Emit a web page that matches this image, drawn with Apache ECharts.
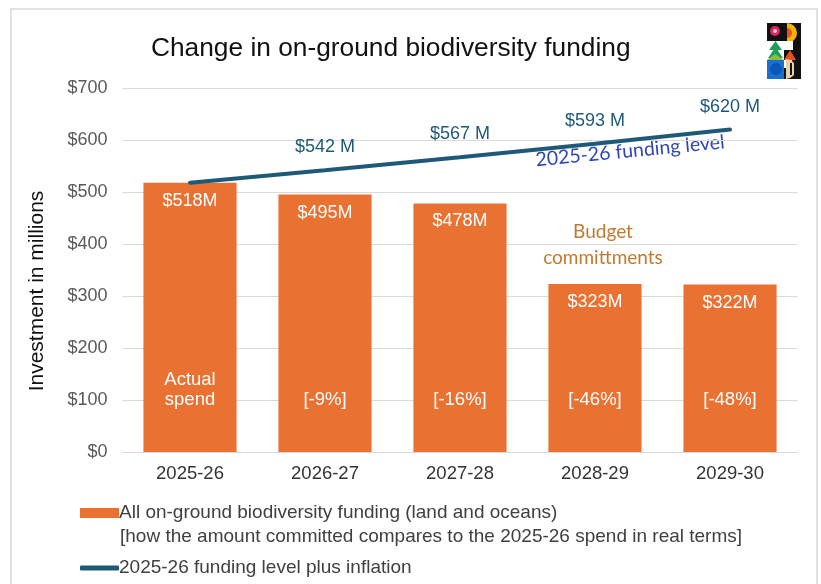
<!DOCTYPE html>
<html><head><meta charset="utf-8">
<script src="https://cdn.jsdelivr.net/npm/echarts@6/dist/echarts.min.js"></script>
<style>html,body{margin:0;padding:0;background:#fff}#c{width:821px;height:584px}</style>
</head><body><div id="c"></div>
<script>
const categories = ['2025-26', '2026-27', '2027-28', '2028-29', '2029-30'];
const funding = [518, 495, 478, 323, 322];
const fundingLabels = ['$518M', '$495M', '$478M', '$323M', '$322M'];
const realTermsNotes = ['Actual\nspend', '[-9%]', '[-16%]', '[-46%]', '[-48%]'];
const inflationLevel = [518, 542, 567, 593, 620];
const inflationLabels = ['', '$542 M', '$567 M', '$593 M', '$620 M'];
const yMin = 0, yMax = 700, yStep = 100;

const barName = 'All on-ground biodiversity funding (land and oceans)';
const lineName = '2025-26 funding level plus inflation';
const FONT = '"Liberation Sans", Arial, sans-serif';
const ORANGE = '#E97132';
const TEAL = '#1E5A78';

const legendText = {fontFamily: FONT, fontSize: 19, color: '#404040', lineHeight: 20, padding: [0, 0, 0, -5]};

const chart = echarts.init(document.getElementById('c'), null, {renderer: 'canvas'});
chart.setOption({
  backgroundColor: '#fff',
  animation: false,
  title: {
    text: 'Change in on-ground biodiversity funding',
    left: 146, top: 31,
    textStyle: {fontFamily: FONT, fontSize: 26.3, fontWeight: 'normal', color: '#111'}
  },
  grid: {left: 122.5, right: 23.5, top: 88, bottom: 132},
  legend: [
    {
      left: 75, top: 498, itemWidth: 39, itemHeight: 10,
      data: [{name: barName, icon: 'rect'}],
      textStyle: legendText
    },
    {
      left: 75, top: 553, itemWidth: 39, itemHeight: 5,
      data: [{name: lineName, icon: 'roundRect'}],
      textStyle: legendText
    }
  ],
  xAxis: {
    type: 'category', data: categories,
    axisLine: {lineStyle: {color: '#d9d9d9', width: 1}},
    axisTick: {show: false},
    axisLabel: {fontFamily: FONT, fontSize: 18.5, color: '#333', margin: 12}
  },
  yAxis: {
    type: 'value', min: yMin, max: yMax, interval: yStep,
    axisLine: {show: false}, axisTick: {show: false},
    splitLine: {lineStyle: {color: '#d9d9d9', width: 1}},
    axisLabel: {fontFamily: FONT, fontSize: 18, color: '#595959', margin: 15,
      formatter: v => '$' + v}
  },
  series: [
    {
      name: barName, type: 'bar', data: funding, barWidth: '69%',
      itemStyle: {color: ORANGE},
      label: {show: true, position: 'insideTop', distance: 9,
        fontFamily: FONT, fontSize: 18, color: '#fff',
        formatter: p => fundingLabels[p.dataIndex]}
    },
    {
      name: 'notes', type: 'bar', data: funding, barWidth: '69%', barGap: '-100%',
      silent: true, itemStyle: {color: 'rgba(0,0,0,0)'},
      label: {show: true, position: 'insideBottom', distance: 42,
        fontFamily: FONT, fontSize: 18.5, color: '#fff', lineHeight: 20,
        formatter: p => realTermsNotes[p.dataIndex]}
    },
    {
      name: lineName, type: 'line', data: inflationLevel, z: 5,
      symbol: 'circle', symbolSize: 0, showSymbol: true,
      lineStyle: {color: TEAL, width: 4, cap: 'round'},
      itemStyle: {color: TEAL},
      label: {show: true, position: 'top', distance: 14,
        fontFamily: FONT, fontSize: 18, color: TEAL,
        formatter: p => inflationLabels[p.dataIndex]}
    }
  ],
  graphic: [
    {type: 'rect', shape: {x: 11, y: 9, width: 806, height: 600},
      style: {fill: 'none', stroke: '#d9d9d9', lineWidth: 1.5}, silent: true},
    {type: 'text', x: 37, y: 291, rotation: Math.PI / 2,
      style: {text: 'Investment in millions', fontFamily: FONT, fontSize: 21, fill: '#111',
        textAlign: 'center', textVerticalAlign: 'middle'}},
    {type: 'text', x: 120, y: 537,
      style: {text: '[how the amount committed compares to the 2025-26 spend in real terms]',
        fontFamily: FONT, fontSize: 19, fill: '#404040', textVerticalAlign: 'middle'}},
    {type: 'text', x: 630, y: 151, rotation: 0.095,
      style: {text: '2025-26 funding level', fontFamily: 'Lato, sans-serif', fontSize: 19.5, fill: '#2F47B5',
        textAlign: 'center', textVerticalAlign: 'middle'}},
    {type: 'text', x: 603, y: 245,
      style: {text: 'Budget\ncommittments', fontFamily: 'Lato, sans-serif', fontSize: 19, lineHeight: 26,
        fill: '#C27A2E', textAlign: 'center', textVerticalAlign: 'middle'}},
    {type: 'group', x: 767, y: 23, silent: true, children: [
      {type: 'rect', shape: {x: 0, y: 0, width: 34, height: 56}, style: {fill: '#111'}},
      {type: 'circle', shape: {cx: 8, cy: 8, r: 5}, style: {fill: '#E0245E'}},
      {type: 'circle', shape: {cx: 8, cy: 8, r: 2}, style: {fill: '#F7C6D0'}},
      {type: 'sector', shape: {cx: 20, cy: 10, r0: 0, r: 10, startAngle: -Math.PI / 2, endAngle: Math.PI / 2}, style: {fill: '#F5B400'}},
      {type: 'sector', shape: {cx: 20, cy: 10, r0: 0, r: 5, startAngle: -Math.PI / 2, endAngle: Math.PI / 2}, style: {fill: '#E8501E'}},
      {type: 'rect', shape: {x: 0, y: 18, width: 17, height: 19}, style: {fill: '#fff'}},
      {type: 'polygon', shape: {points: [[8.5, 18], [2, 27], [15, 27]]}, style: {fill: '#1E9E5A'}},
      {type: 'polygon', shape: {points: [[8.5, 24], [1, 35], [16, 35]]}, style: {fill: '#1E9E5A'}},
      {type: 'rect', shape: {x: 17, y: 18, width: 9, height: 9}, style: {fill: '#fff'}},
      {type: 'polygon', shape: {points: [[17, 37], [23, 27], [29, 37]]}, style: {fill: '#E8501E'}},
      {type: 'polygon', shape: {points: [[0, 37], [8, 31], [17, 37]]}, style: {fill: '#8DBF3F'}},
      {type: 'rect', shape: {x: 0, y: 37, width: 17, height: 19}, style: {fill: '#1B6FD0'}},
      {type: 'circle', shape: {cx: 9, cy: 46, r: 6}, style: {fill: '#0A57B5'}},
      {type: 'rect', shape: {x: 17, y: 37, width: 8, height: 8}, style: {fill: '#fff'}},
      {type: 'sector', shape: {cx: 19, cy: 46, r0: 0, r: 10, startAngle: -Math.PI / 2, endAngle: Math.PI / 2}, style: {fill: '#E6D3A8'}},
      {type: 'rect', shape: {x: 23, y: 40, width: 2, height: 12}, style: {fill: '#111'}},
      {type: 'rect', shape: {x: 27, y: 40, width: 2, height: 12}, style: {fill: '#111'}}
    ]}
  ]
});
</script></body></html>
